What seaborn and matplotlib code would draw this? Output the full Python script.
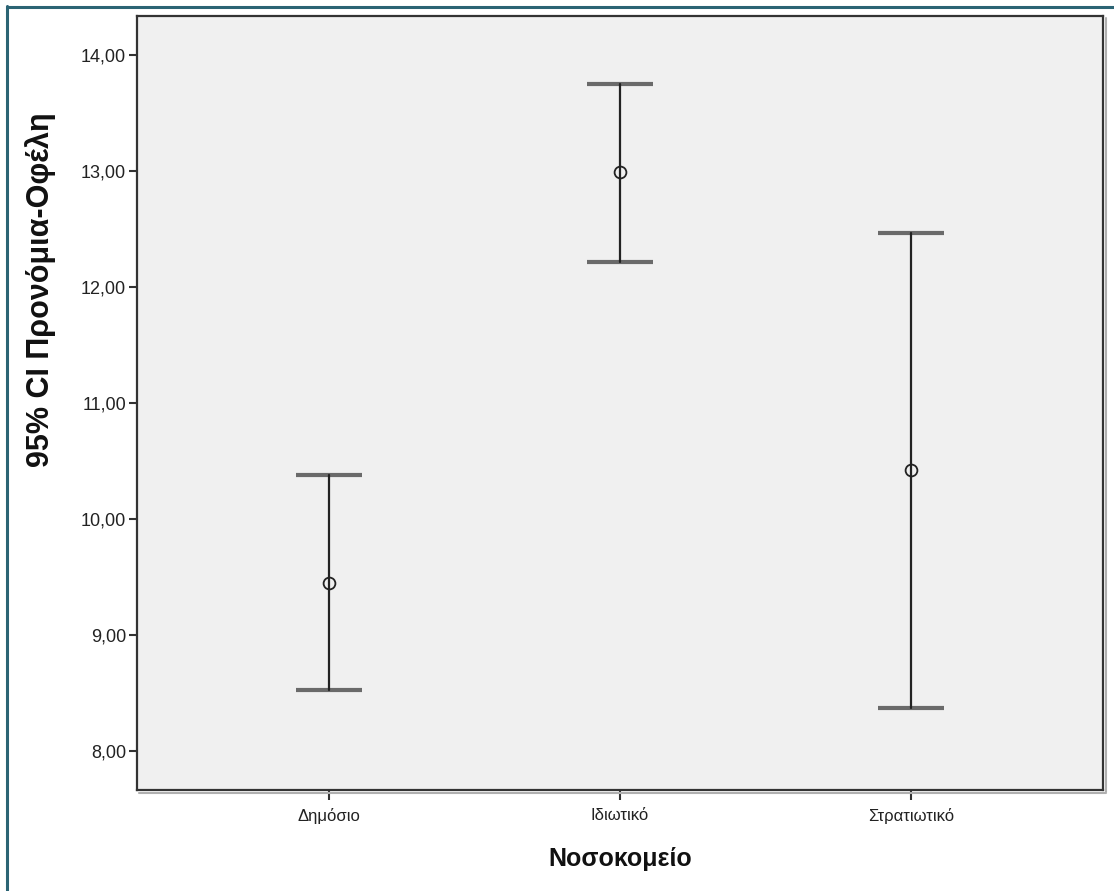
import numpy as np
import pandas as pd
import matplotlib
matplotlib.use("Agg")
import matplotlib.pyplot as plt
import seaborn as sns
from matplotlib.lines import Line2D
from matplotlib.ticker import FuncFormatter

# ---- data ----
categories = ["Δημόσιο", "Ιδιωτικό", "Στρατιωτικό"]
means = [9.45, 12.99, 10.42]
ci_lower = [8.52, 12.22, 8.37]
ci_upper = [10.38, 13.75, 12.47]
y_ticks = [8, 9, 10, 11, 12, 13, 14]
x_label = "Νοσοκομείο"
y_label = "95% CI Προνόμια-Οφέλη"

sns.set_theme(style="white")
plt.rcParams["font.family"] = ["Liberation Sans", "DejaVu Sans"]

# long table: lower / mean / upper per category -> median = mean, full range = CI
long_df = pd.DataFrame({
    "cat": np.repeat(categories, 3),
    "val": np.ravel(np.column_stack([ci_lower, means, ci_upper])),
})

W, H = 1114, 891
fig = plt.figure(figsize=(W / 100, H / 100), dpi=100)
fig.patch.set_facecolor("white")
ax = fig.add_axes([137 / W, 1 - 790 / H, (1103 - 137) / W, (790 - 16) / H])
ax.set_facecolor("#f0f0f0")

dark = "#222222"
sns.pointplot(
    data=long_df, x="cat", y="val", order=categories,
    estimator="median", errorbar=("pi", 100), capsize=0,
    linestyle="none", marker="o", color=dark,
    markersize=8.5, markeredgewidth=1.3, markerfacecolor="none",
    err_kws={"linewidth": 1.6, "color": dark},
    ax=ax,
)

# caps
cap_half = 0.113
xs = np.arange(len(categories))
ax.hlines(ci_lower, xs - cap_half, xs + cap_half, colors="#6a6a6a", linewidth=3.0, zorder=1.5)
ax.hlines(ci_upper, xs - cap_half, xs + cap_half, colors="#6a6a6a", linewidth=3.0, zorder=1.5)

ax.set_xlim(-0.66, 2.66)
ax.set_ylim(7.66, 14.34)
ax.set_yticks(y_ticks)
ax.yaxis.set_major_formatter(FuncFormatter(lambda v, p: f"{v:.2f}".replace(".", ",")))

for s in ax.spines.values():
    s.set_color("#333333")
    s.set_linewidth(1.6)

ax.tick_params(axis="y", which="major", direction="out", length=6, width=1.5,
               color="#333333", labelsize=13, labelcolor="#222222", pad=2, left=True)
ax.tick_params(axis="x", which="major", direction="out", length=7, width=1.5,
               color="#333333", labelsize=12, labelcolor="#222222", pad=6, bottom=True)

ax.set_xlabel(x_label, fontsize=18, fontweight="bold", color="#111111")
ax.set_ylabel(y_label, fontsize=22, fontweight="bold", color="#111111")
ax.xaxis.set_label_coords(0.5, -0.074)
ax.yaxis.set_label_coords(-0.084, 0.646)

# shadow of plot frame (right and bottom)
fig.add_artist(Line2D([1105.5 / W, 1105.5 / W], [1 - 18 / H, 1 - 792 / H],
                      transform=fig.transFigure, color="#b0b0b0", linewidth=1.5))
fig.add_artist(Line2D([139 / W, 1105.5 / W], [1 - 792.5 / H, 1 - 792.5 / H],
                      transform=fig.transFigure, color="#b0b0b0", linewidth=1.5))

# outer teal border (left and top)
teal = "#2b6474"
fig.add_artist(Line2D([7 / W, 7 / W], [0, 1 - 6 / H], transform=fig.transFigure,
                      color=teal, linewidth=2.2))
fig.add_artist(Line2D([7 / W, 1], [1 - 7 / H, 1 - 7 / H], transform=fig.transFigure,
                      color=teal, linewidth=2.2))

fig.savefig("out.png", dpi=100, facecolor="white")
